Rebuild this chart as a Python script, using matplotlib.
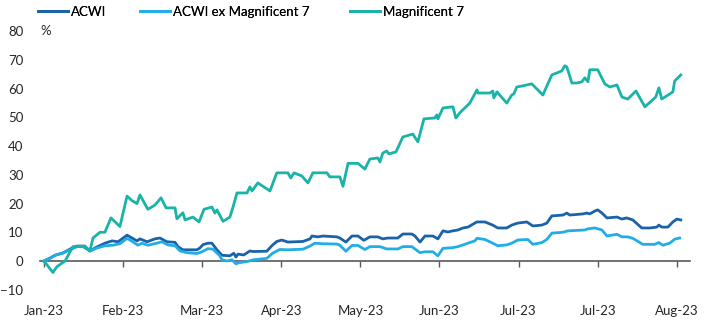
import numpy as np
import pandas as pd
import matplotlib
matplotlib.use("Agg")
import matplotlib.pyplot as plt

# day offsets from 2 Jan 2023 and cumulative return (%)
mag7_days = [0, 3.4, 4.9, 8.0, 11.0, 14.8, 17.4, 18.6, 21.2, 23.1, 25.4, 28.8, 31.5, 33.4,
             35.3, 36.4, 39.4, 42.1, 44.4, 46.3, 49.7, 50.4, 52.7, 53.5, 56.5, 58.8, 60.7,
             63.7, 64.8, 65.6, 67.9, 70.5, 71.7, 73.2, 77.0, 78.1, 78.9, 81.1, 85.7, 88.3,
             92.5, 93.6, 94.8, 97.8, 100.1, 102.0, 107.3, 108.4, 112.2, 113.4, 115.3, 119.1,
             121.7, 123.6, 126.6, 127.4, 128.5, 130.0, 130.8, 133.5, 136.1, 139.9, 141.8,
             144.1, 148.2, 149.0, 149.4, 151.3, 155.1, 156.2, 157.7, 161.5, 164.2, 164.6,
             169.1, 170.2, 170.6, 171.8, 175.5, 177.4, 178.2, 179.3, 181.6, 185.0, 189.2,
             192.6, 196.4, 197.5, 198.3, 200.2, 202.1, 204.0, 205.1, 206.3, 207.0, 210.0,
             212.7, 214.6, 217.3, 219.2, 221.4, 224.5, 227.9, 232.0, 233.2, 234.3, 238.5,
             239.2, 241.5]
mag7 = [0, -4, -2, 0, 5, 5, 3.5, 8, 10, 10, 15, 12, 22.6, 21,
        20, 23, 18, 19.5, 22, 18.5, 18.5, 14.7, 16.8, 14.3, 15.3, 13.6, 18,
        18.8, 16.7, 17.8, 13.8, 15.3, 18.8, 23.7, 23.7, 25.8, 24.4, 27.2, 24.4, 30.7,
        30.7, 28.9, 30.7, 29.6, 27.2, 30.7, 30.7, 29.3, 29.3, 26, 34, 34,
        32, 35.5, 35.9, 34.5, 37.6, 38.3, 37.3, 38, 43.2, 44.2, 41.5,
        49.5, 49.8, 50.9, 49.5, 53.3, 53.7, 49.8, 51.6, 55, 59.6, 58.5,
        58.5, 59.2, 56.8, 58.9, 55, 57.8, 58.2, 60.6, 61, 61.7, 57.8,
        64.8, 66.2, 68, 67.6, 62, 62, 62.4, 63.8, 62.4, 66.6, 66.6,
        61.7, 60.6, 61.3, 57.1, 56.4, 59.2, 53.7, 57.1, 60.3, 56.4, 58.9,
        62.7, 64.8]

acwi_days = [0, 2.3, 4.2, 7.2, 10.6, 12.5, 15.5, 17.4, 20.1, 23.1, 25.8, 28.1, 31.5, 33.4,
             35.3, 36.4, 39.1, 42.1, 44.0, 46.6, 49.7, 50.8, 52.7, 58.0, 59.1, 60.3, 62.2,
             63.7, 65.6, 67.5, 70.5, 72.0, 72.8, 73.6, 75.8, 78.1, 79.3, 84.5, 86.4, 88.3,
             90.2, 92.5, 98.2, 100.9, 101.6, 103.9, 105.8, 111.1, 112.2, 114.5, 116.8, 119.1,
             121.3, 123.6, 126.6, 128.5, 130.4, 134.2, 136.1, 139.5, 140.7, 142.6, 144.5,
             147.5, 149.4, 151.3, 153.2, 155.1, 157.0, 158.9, 160.8, 163.4, 164.2, 167.2,
             170.2, 172.1, 175.5, 177.4, 179.7, 183.1, 185.4, 188.8, 190.7, 192.6, 196.8,
             198.3, 199.4, 204.4, 205.9, 207.0, 208.9, 210.0, 211.6, 213.5, 217.3, 219.2,
             221.0, 223.3, 226.7, 229.8, 232.4, 233.2, 234.3, 236.6, 238.5, 240.0, 241.5]
acwi = [0, 1, 2, 2.8, 4.5, 5.2, 5.2, 3.5, 4.9, 6.2, 7, 6.7, 9, 8,
        7, 7.7, 6.7, 7.7, 8, 6.7, 6.5, 5, 3.9, 3.9, 4.5, 5.7, 6.2,
        6.2, 3.9, 2, 1.8, 2.7, 1.4, 2.4, 2.1, 3.5, 3.3, 3.4, 5.3, 6.8,
        7.3, 6.6, 6.8, 7.7, 8.7, 8.4, 8.7, 8.4, 8, 6.6, 8.7, 8.7,
        7.2, 8.4, 8.4, 7.7, 8, 8, 9.4, 9.4, 8.7, 6.6, 8.7,
        8.7, 7.7, 10.5, 10.1, 10.5, 10.8, 11.5, 11.8, 13.2, 13.6, 13.6,
        12.5, 11.5, 11.5, 12.5, 13.2, 13.6, 12.2, 12.5, 13.2, 15.7, 16,
        16.7, 16, 16.4, 16.7, 16.4, 17.4, 17.8, 16.7, 15, 15.3, 14.6,
        15, 14.3, 11.5, 11.5, 11.8, 12.5, 11.8, 11.8, 13.6, 14.6, 14.3]

exm7_days = [0, 2.3, 4.2, 7.2, 10.6, 12.5, 15.5, 17.4, 20.1, 23.1, 26.2, 28.8, 31.5, 33.7,
             35.6, 37.2, 39.4, 42.8, 44.7, 47.0, 49.7, 51.6, 54.2, 58.0, 59.9, 62.2, 64.1,
             66.7, 67.5, 69.4, 71.3, 72.8, 73.9, 77.0, 79.3, 84.5, 86.7, 89.4, 92.5, 98.2,
             100.9, 102.7, 105.8, 111.1, 112.2, 114.5, 116.8, 119.1, 121.7, 123.6, 127.4,
             130.0, 134.2, 136.1, 139.5, 142.6, 144.5, 147.5, 149.4, 151.3, 154.7, 157.0,
             160.8, 163.4, 164.2, 167.2, 170.2, 172.1, 175.5, 177.4, 179.7, 183.5, 185.4,
             188.8, 190.7, 192.6, 196.8, 198.7, 205.1, 206.3, 208.9, 211.6, 213.5, 217.3,
             219.2, 221.4, 223.3, 227.1, 231.6, 233.2, 234.7, 237.3, 239.2, 241.1]
exm7 = [0, 0.9, 2, 2.8, 4.2, 5, 5, 3.5, 4.5, 5.3, 5.5, 6, 7.9, 6.7,
        5.5, 6.2, 5.5, 6.2, 6.7, 5.6, 5.3, 3.5, 2.9, 2.6, 3.2, 4.3, 4.1,
        1.8, 0.4, 0, 0.4, -1, -0.6, -0.2, 0.4, 0.9, 2.7, 4, 3.9, 4.1,
        5.2, 6.2, 6.0, 5.9, 5.5, 3.4, 5.4, 5.4, 4, 5, 5,
        4.2, 4.2, 5, 5, 2.9, 3.2, 3.2, 1.8, 4.4, 4.6, 5,
        6.2, 7, 7.9, 7.5, 6.2, 5.3, 5.6, 6.2, 7.3, 7.5, 5.8,
        6.4, 7.5, 9.7, 10, 10.5, 10.8, 11.2, 11.5, 10.8, 8.7, 9.3,
        8.4, 8.4, 7.9, 5.8, 5.8, 6.4, 5.5, 6.2, 7.6, 8]

tick_labels = ["Jan-23", "Feb-23", "Mar-23", "Apr-23", "May-23",
               "Jun-23", "Jul-23", "Jul-23", "Aug-23"]

base = pd.Timestamp("2023-01-02")
def to_dates(days):
    return base + pd.to_timedelta(np.array(days), unit="D")

plt.rcParams["font.family"] = ["Lato", "DejaVu Sans"]
plt.rcParams["font.size"] = 9.5

fig = plt.figure(figsize=(7.12, 3.21), dpi=100)
ax = fig.add_axes([0.0562, 0.0975, 0.9129, 0.805])

c_acwi = "#1b63a8"
c_ex = "#21aee6"
c_mag = "#19b3a8"

l1, = ax.plot(to_dates(acwi_days), acwi, color=c_acwi, lw=2.0, label="ACWI", zorder=3)
l2, = ax.plot(to_dates(exm7_days), exm7, color=c_ex, lw=2.0, label="ACWI ex Magnificent 7", zorder=3)
l3, = ax.plot(to_dates(mag7_days), mag7, color=c_mag, lw=2.0, label="Magnificent 7", zorder=3)

ax.set_xlim(base - pd.Timedelta(days=1.5), base + pd.Timedelta(days=245))
ax.set_ylim(-10, 80)
ax.set_yticks(range(-10, 81, 10))

tick_dates = base + pd.to_timedelta(np.arange(0, 241, 30), unit="D")
ax.set_xticks(tick_dates, tick_labels)

for s in ["top", "right", "left"]:
    ax.spines[s].set_visible(False)
ax.spines["bottom"].set_position(("data", 0))
ax.spines["bottom"].set_color("#595959")
ax.spines["bottom"].set_linewidth(1.2)
ax.tick_params(axis="x", direction="out", length=4, width=1, color="#595959",
               pad=27.5, labelcolor="#262626")
ax.tick_params(axis="y", length=0, pad=12, labelcolor="#262626")

ax.text(0.0, 1.0, "%", transform=ax.transAxes, ha="left", va="center",
        color="#262626")

# one legend per entry so each sits where the reference has it
for h, xpx in [(l1, 38), (l2, 140), (l3, 350)]:
    fig.add_artist(fig.legend(handles=[h], loc="center left",
                              bbox_to_anchor=(xpx / 712, 1 - 12 / 321),
                              frameon=False, borderpad=0, borderaxespad=0,
                              handlelength=2.3, handletextpad=0.2))

fig.savefig("out.png", dpi=100)
